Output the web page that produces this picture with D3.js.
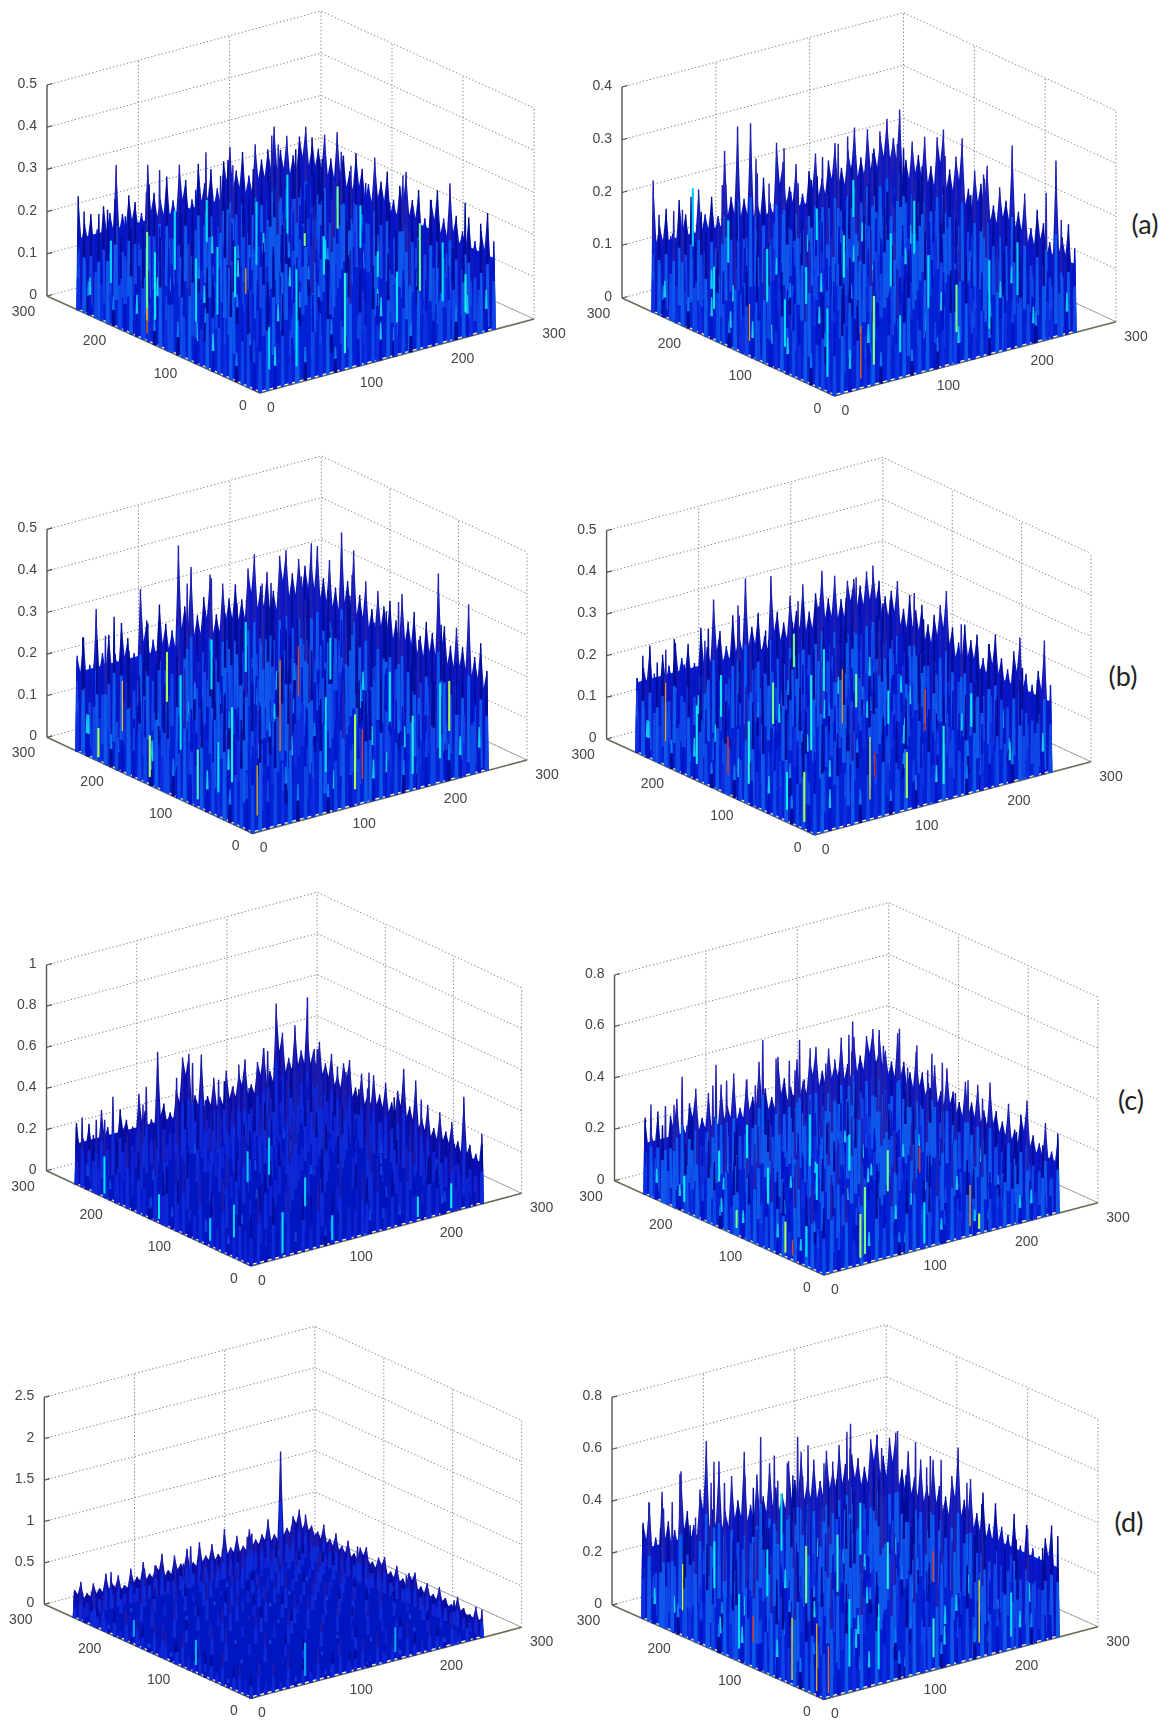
<!DOCTYPE html>
<html>
<head>
<meta charset="utf-8">
<script src="https://cdn.jsdelivr.net/npm/d3@7"></script>
<style>
  html, body { margin: 0; padding: 0; background: #fff; }
  text { font-family: "Liberation Sans", Arial, sans-serif; }
</style>
</head>
<body>
<div id="plot"></div>
<script>
// tick labels shared by the floor axes
const xyTicks = [0, 100, 200, 300];
const gridExtent = 256;

// vertical ticks of each panel
const zTicksA1 = [0, 0.1, 0.2, 0.3, 0.4, 0.5];
const zTicksA2 = [0, 0.1, 0.2, 0.3, 0.4];
const zTicksB1 = [0, 0.1, 0.2, 0.3, 0.4, 0.5];
const zTicksB2 = [0, 0.1, 0.2, 0.3, 0.4, 0.5];
const zTicksC1 = [0, 0.2, 0.4, 0.6, 0.8, 1];
const zTicksC2 = [0, 0.2, 0.4, 0.6, 0.8];
const zTicksD1 = [0, 0.5, 1, 1.5, 2, 2.5];
const zTicksD2 = [0, 0.2, 0.4, 0.6, 0.8];

// heights read along the back-left edge (left to right on screen)
const leftA1 = [.27,.2,.22,.18,.23,.21,.32,.2,.24,.22,.19,.3,.23,.21,.26,.2,.28,.24,.19,.27,.22,.25,.2,.26,.29,.23,.27,.21,.28,.24,.26,.31,.25,.28,.23,.27,.29,.24];
const leftA2 = [.25,.16,.19,.14,.2,.17,.15,.21,.16,.19,.15,.27,.18,.31,.17,.31,.16,.2,.15,.26,.22,.17,.21,.15,.19,.22,.17,.2,.23,.18,.21,.25,.19,.24,.2,.22,.25,.21];
const leftB1 = [.23,.27,.2,.33,.22,.26,.21,.28,.24,.2,.35,.27,.22,.3,.25,.23,.43,.28,.37,.25,.29,.34,.24,.31,.27,.3,.26,.33,.36,.28,.31,.26,.34,.35,.29,.32,.3,.35];
const leftB2 = [.18,.2,.25,.17,.22,.19,.24,.2,.23,.18,.26,.21,.32,.24,.2,.27,.22,.35,.23,.26,.2,.34,.25,.22,.28,.24,.3,.23,.27,.32,.25,.3,.24,.28,.28,.26,.29,.27];
const leftC1 = [.3,.22,.28,.2,.33,.24,.2,.31,.25,.21,.36,.27,.22,.54,.28,.23,.33,.48,.49,.28,.47,.26,.34,.24,.36,.27,.33,.39,.26,.36,.42,.3,.62,.47,.34,.49,.36,.61];
const leftC2 = [.29,.22,.31,.2,.28,.34,.23,.31,.36,.24,.33,.23,.35,.26,.38,.24,.34,.27,.4,.29,.25,.4,.31,.27,.37,.28,.36,.4,.3,.38,.32,.41,.3,.4,.32,.39,.41,.33];
const leftD1 = [.34,.42,.26,.36,.28,.44,.3,.38,.24,.42,.3,.46,.3,.38,.5,.28,.44,.32,.48,.3,.52,.34,.46,.32,.6,.36,.48,.34,.52,.38,.42,.58,.38,1.36,.42,.54,.6,.44];
const leftD2 = [.37,.44,.3,.47,.35,.31,.53,.37,.31,.44,.62,.35,.53,.33,.46,.36,.54,.33,.44,.35,.47,.37,.34,.46,.38,.48,.36,.44,.35,.46,.38,.47,.39,.42,.4,.36,.46,.47];

// heights read along the back-right edge (left to right on screen)
const rightA1 = [.26,.24,.28,.23,.3,.25,.22,.27,.24,.21,.28,.23,.26,.2,.24,.28,.22,.25,.19,.24,.27,.21,.3,.23,.2,.24,.19,.22,.27,.18];
const rightA2 = [.21,.27,.18,.22,.2,.24,.19,.25,.27,.2,.23,.27,.18,.22,.2,.24,.17,.21,.19,.3,.18,.22,.16,.2,.18,.15,.31,.17,.2,.14];
const rightB1 = [.3,.35,.28,.33,.27,.41,.3,.38,.28,.32,.26,.31,.28,.3,.26,.33,.27,.3,.25,.29,.27,.42,.3,.26,.31,.27,.38,.26,.3,.24];
const rightB2 = [.3,.27,.24,.26,.29,.23,.27,.24,.26,.22,.25,.28,.32,.24,.21,.26,.23,.25,.2,.24,.27,.22,.2,.25,.29,.21,.19,.23,.31,.18];
const rightC1 = [.44,.36,.42,.33,.39,.3,.37,.4,.28,.36,.27,.38,.3,.37,.29,.36,.48,.31,.45,.28,.36,.26,.35,.27,.33,.25,.48,.26,.23,.34];
const rightC2 = [.4,.33,.3,.42,.32,.29,.38,.31,.28,.36,.27,.37,.29,.26,.35,.28,.36,.27,.39,.29,.26,.34,.25,.32,.385,.26,.24,.33,.23,.29];
const rightD1 = [.52,.42,.38,.5,.36,.46,.34,.44,.32,.42,.46,.32,.4,.44,.3,.4,.28,.38,.42,.28,.36,.26,.38,.28,.24,.36,.26,.22,.34,.24];
const rightD2 = [.47,.4,.48,.51,.38,.46,.37,.45,.36,.47,.38,.35,.44,.56,.37,.46,.34,.43,.32,.41,.33,.31,.4,.29,.38,.3,.28,.36,.42,.27];

// heights read along the front-left edge, from the left corner to the front corner
const frontLA1 = [.14,.24,.09,.2,.16,.27,.07,.19,.12,.25,.1,.22,.17,.06,.26,.13,.21,.08,.18,.28,.11,.16,.24,.09,.2,.14,.27,.07,.19,.23,.12,.17];
const frontLA2 = [.11,.19,.07,.16,.13,.22,.06,.15,.1,.2,.08,.17,.14,.05,.21,.11,.17,.07,.14,.22,.09,.13,.19,.07,.16,.12,.21,.06,.15,.18,.1,.14];
const frontLB1 = [.17,.28,.1,.23,.19,.31,.08,.21,.14,.29,.12,.25,.2,.07,.3,.15,.24,.09,.2,.32,.13,.18,.27,.1,.23,.16,.3,.08,.22,.26,.14,.19];
const frontLB2 = [.15,.24,.09,.21,.17,.28,.07,.19,.12,.26,.1,.22,.18,.06,.27,.13,.21,.08,.18,.28,.11,.16,.25,.09,.2,.14,.27,.07,.19,.23,.12,.17];
const frontLC1 = [.2,.34,.12,.28,.23,.38,.1,.26,.17,.36,.14,.3,.24,.09,.4,.18,.29,.11,.25,.37,.15,.22,.33,.12,.27,.19,.36,.1,.26,.31,.16,.23];
const frontLC2 = [.21,.36,.12,.3,.24,.4,.1,.27,.18,.38,.14,.32,.25,.09,.42,.19,.31,.11,.26,.39,.16,.23,.35,.12,.29,.2,.38,.1,.28,.33,.17,.24];
const frontLD1 = [.24,.38,.13,.32,.26,.43,.11,.3,.2,.4,.15,.34,.27,.1,.45,.21,.33,.12,.28,.42,.17,.25,.37,.13,.31,.22,.41,.11,.29,.35,.18,.26];
const frontLD2 = [.28,.46,.14,.38,.3,.5,.12,.34,.22,.48,.17,.4,.32,.11,.52,.24,.39,.14,.33,.49,.19,.29,.44,.15,.36,.25,.47,.12,.35,.41,.2,.3];

// heights read along the front-right edge, from the front corner to the right corner
const frontRA1 = [.18,.26,.1,.22,.13,.27,.08,.2,.15,.24,.06,.19,.28,.12,.17,.23,.09,.25,.14,.2,.07,.26,.16,.11,.22,.18,.08,.24,.13,.19,.1,.21];
const frontRA2 = [.14,.2,.08,.17,.1,.22,.06,.16,.12,.19,.05,.15,.22,.09,.13,.18,.07,.2,.11,.16,.06,.21,.13,.09,.17,.14,.06,.19,.1,.15,.08,.16];
const frontRB1 = [.21,.3,.12,.26,.15,.32,.09,.23,.17,.28,.07,.22,.31,.14,.2,.27,.1,.29,.16,.23,.08,.3,.18,.13,.25,.21,.09,.28,.15,.22,.11,.24];
const frontRB2 = [.18,.26,.1,.23,.13,.28,.08,.2,.15,.24,.06,.19,.27,.12,.17,.23,.09,.25,.14,.2,.07,.26,.16,.11,.22,.18,.08,.24,.13,.19,.1,.21];
const frontRC1 = [.25,.36,.14,.31,.18,.39,.11,.28,.2,.34,.09,.26,.4,.16,.24,.33,.12,.36,.19,.28,.1,.37,.22,.15,.3,.25,.11,.34,.18,.27,.13,.29];
const frontRC2 = [.26,.38,.15,.33,.19,.42,.12,.3,.22,.36,.09,.28,.41,.17,.25,.35,.13,.38,.2,.3,.1,.4,.23,.16,.32,.26,.11,.36,.19,.28,.14,.31];
const frontRD1 = [.28,.42,.16,.36,.2,.45,.12,.32,.24,.4,.1,.3,.44,.18,.27,.38,.14,.41,.22,.33,.11,.43,.26,.18,.35,.29,.12,.39,.21,.31,.15,.34];
const frontRD2 = [.32,.48,.18,.42,.24,.52,.14,.38,.27,.46,.11,.35,.51,.21,.31,.44,.16,.48,.25,.37,.12,.5,.29,.19,.4,.33,.14,.45,.24,.36,.17,.39];

// heights read across the body, back row first, 14 rows of 14
const gridA1 = [
.19,.24,.12,.28,.16,.21,.09,.26,.18,.14,.29,.11,.23,.17,
.08,.21,.27,.13,.19,.31,.15,.07,.24,.2,.12,.26,.16,.22,
.25,.11,.18,.23,.06,.17,.28,.2,.1,.3,.14,.19,.24,.09,
.14,.29,.07,.2,.26,.12,.22,.16,.27,.08,.21,.13,.18,.25,
.22,.1,.24,.16,.3,.09,.19,.27,.13,.18,.25,.06,.28,.15,
.06,.18,.27,.11,.2,.25,.14,.08,.29,.17,.1,.23,.12,.21,
.27,.15,.09,.26,.13,.18,.3,.21,.07,.24,.19,.28,.16,.1,
.12,.23,.2,.07,.28,.16,.1,.25,.18,.14,.27,.09,.22,.19,
.2,.08,.29,.17,.12,.24,.21,.06,.3,.11,.16,.26,.13,.24,
.26,.19,.13,.22,.25,.08,.17,.28,.12,.2,.07,.23,.29,.11,
.1,.27,.16,.09,.19,.3,.13,.22,.16,.26,.18,.12,.08,.24,
.23,.07,.25,.2,.14,.11,.27,.17,.09,.21,.29,.15,.19,.13,
.15,.2,.11,.28,.08,.22,.18,.1,.25,.13,.06,.24,.17,.27,
.09,.26,.18,.12,.23,.16,.07,.29,.14,.19,.22,.1,.26,.16];
const gridA2 = [
.14,.2,.09,.17,.24,.11,.16,.07,.21,.13,.18,.1,.23,.15,
.06,.18,.22,.11,.14,.26,.09,.19,.12,.25,.08,.17,.13,.2,
.21,.08,.13,.24,.07,.17,.2,.12,.16,.06,.22,.14,.19,.09,
.12,.25,.1,.15,.19,.09,.13,.27,.07,.18,.11,.24,.08,.21,
.17,.07,.2,.12,.23,.15,.06,.18,.22,.1,.16,.13,.2,.11,
.09,.15,.26,.06,.13,.21,.17,.09,.14,.25,.07,.19,.12,.16,
.23,.11,.12,.19,.08,.16,.25,.07,.2,.13,.17,.09,.24,.1,
.07,.18,.16,.1,.22,.06,.12,.19,.09,.23,.14,.2,.06,.17,
.13,.09,.24,.14,.11,.2,.15,.1,.26,.07,.12,.18,.15,.22,
.2,.16,.07,.18,.25,.09,.22,.13,.06,.17,.21,.08,.11,.14,
.08,.22,.13,.09,.15,.17,.06,.24,.11,.19,.1,.25,.16,.07,
.16,.06,.19,.23,.1,.12,.2,.08,.15,.13,.22,.07,.18,.12,
.11,.17,.08,.13,.2,.07,.14,.21,.1,.06,.16,.19,.09,.24,
.05,.14,.21,.1,.06,.18,.09,.12,.19,.15,.07,.13,.22,.1];
const gridB1 = [
.22,.3,.13,.26,.19,.09,.33,.17,.24,.12,.28,.2,.15,.31,
.1,.19,.28,.16,.35,.23,.07,.27,.13,.3,.18,.09,.25,.21,
.29,.14,.08,.31,.2,.12,.26,.18,.32,.1,.22,.27,.14,.17,
.17,.26,.23,.1,.14,.29,.2,.09,.24,.16,.33,.12,.28,.2,
.08,.21,.34,.18,.27,.13,.11,.3,.19,.25,.07,.23,.17,.32,
.3,.12,.16,.25,.09,.22,.31,.14,.08,.28,.2,.13,.29,.1,
.19,.28,.07,.2,.3,.17,.1,.25,.33,.12,.17,.26,.09,.23,
.11,.15,.27,.13,.22,.08,.29,.19,.14,.24,.31,.1,.21,.27,
.26,.09,.2,.32,.12,.25,.16,.07,.28,.18,.11,.3,.15,.13,
.14,.3,.18,.08,.24,.19,.27,.12,.21,.09,.26,.17,.33,.2,
.23,.11,.25,.16,.1,.31,.08,.22,.29,.15,.19,.07,.24,.12,
.07,.27,.13,.29,.18,.12,.2,.28,.1,.23,.13,.27,.16,.3,
.2,.16,.09,.22,.3,.06,.25,.15,.18,.11,.31,.2,.08,.19,
.12,.24,.19,.1,.15,.27,.11,.21,.07,.26,.14,.1,.23,.16];
const gridB2 = [
.18,.25,.1,.22,.29,.13,.2,.08,.26,.16,.11,.24,.19,.14,
.09,.2,.27,.14,.16,.23,.07,.28,.12,.21,.17,.3,.1,.22,
.24,.12,.17,.3,.08,.19,.25,.13,.22,.09,.27,.15,.2,.11,
.13,.28,.06,.2,.24,.11,.16,.29,.18,.14,.07,.23,.26,.17,
.21,.09,.23,.15,.1,.27,.19,.07,.24,.2,.13,.18,.09,.28,
.07,.16,.3,.12,.22,.17,.1,.25,.14,.08,.29,.21,.15,.12,
.27,.19,.11,.24,.06,.13,.28,.18,.09,.23,.16,.1,.25,.2,
.12,.07,.2,.17,.27,.21,.08,.14,.3,.11,.19,.26,.07,.15,
.22,.26,.14,.09,.18,.25,.12,.2,.17,.27,.06,.13,.23,.18,
.1,.17,.23,.28,.11,.07,.22,.16,.09,.19,.24,.15,.28,.08,
.25,.08,.13,.19,.21,.15,.27,.1,.26,.12,.18,.09,.2,.24,
.15,.22,.09,.12,.26,.2,.06,.23,.13,.17,.11,.27,.14,.1,
.09,.18,.24,.07,.14,.1,.19,.12,.21,.08,.25,.16,.06,.22,
.2,.11,.15,.22,.08,.17,.13,.24,.07,.16,.1,.19,.23,.13];
const gridC1 = [
.28,.38,.17,.34,.22,.44,.19,.31,.26,.14,.4,.24,.33,.2,
.13,.25,.42,.2,.3,.16,.36,.12,.28,.45,.18,.32,.22,.38,
.36,.18,.26,.46,.12,.28,.21,.4,.16,.3,.24,.14,.42,.27,
.2,.41,.14,.24,.35,.19,.48,.25,.33,.11,.38,.28,.18,.34,
.31,.12,.37,.29,.17,.42,.13,.3,.22,.4,.16,.35,.26,.14,
.16,.33,.23,.13,.44,.26,.34,.18,.12,.31,.43,.2,.38,.28,
.42,.21,.16,.39,.24,.11,.29,.46,.2,.26,.13,.34,.15,.24,
.11,.28,.45,.19,.3,.36,.15,.23,.39,.16,.3,.22,.43,.18,
.26,.17,.12,.33,.14,.25,.41,.1,.28,.35,.19,.4,.12,.32,
.38,.24,.3,.1,.22,.4,.18,.33,.14,.23,.44,.11,.27,.2,
.14,.36,.2,.27,.42,.13,.24,.3,.17,.4,.1,.29,.21,.37,
.24,.1,.32,.18,.12,.31,.2,.15,.36,.13,.26,.34,.16,.12,
.18,.27,.13,.23,.3,.09,.26,.35,.11,.21,.33,.14,.28,.23,
.09,.2,.26,.12,.17,.28,.11,.18,.24,.3,.1,.2,.13,.26];
const gridC2 = [
.3,.42,.18,.36,.24,.48,.14,.33,.4,.2,.28,.46,.16,.38,
.16,.28,.46,.12,.34,.22,.4,.27,.13,.36,.44,.18,.31,.24,
.38,.2,.12,.4,.3,.15,.5,.2,.34,.1,.26,.38,.22,.44,
.13,.44,.26,.18,.48,.32,.11,.41,.24,.3,.16,.42,.13,.28,
.34,.1,.37,.28,.14,.4,.24,.16,.46,.13,.36,.2,.34,.18,
.22,.3,.16,.44,.23,.1,.36,.3,.12,.42,.22,.28,.1,.4,
.4,.15,.33,.1,.38,.27,.17,.45,.2,.26,.11,.48,.3,.14,
.12,.36,.24,.2,.46,.14,.32,.1,.38,.16,.34,.18,.42,.25,
.28,.2,.42,.13,.26,.34,.12,.4,.24,.3,.44,.1,.22,.36,
.44,.12,.18,.38,.1,.22,.42,.19,.14,.36,.2,.3,.16,.12,
.17,.34,.28,.22,.4,.13,.26,.33,.1,.24,.4,.14,.35,.27,
.32,.09,.38,.14,.18,.36,.1,.23,.41,.12,.18,.32,.08,.21,
.1,.26,.15,.3,.12,.2,.28,.14,.18,.34,.09,.24,.28,.14,
.22,.13,.24,.08,.27,.1,.16,.26,.09,.2,.28,.12,.16,.22];
const gridD1 = [
.32,.44,.2,.38,.26,.5,.16,.36,.28,.46,.22,.34,.4,.18,
.18,.3,.46,.14,.4,.24,.36,.2,.52,.16,.32,.42,.26,.34,
.4,.12,.28,.44,.2,.34,.12,.46,.24,.38,.14,.3,.48,.22,
.24,.42,.18,.32,.5,.14,.38,.28,.18,.42,.34,.2,.28,.4,
.14,.34,.4,.22,.12,.44,.26,.16,.48,.24,.12,.38,.32,.18,
.36,.2,.12,.46,.3,.18,.4,.34,.1,.3,.44,.16,.24,.42,
.22,.42,.32,.16,.38,.26,.12,.46,.22,.36,.18,.4,.14,.3,
.1,.28,.18,.4,.14,.44,.3,.2,.34,.12,.42,.26,.36,.2,
.38,.16,.44,.24,.32,.1,.36,.14,.42,.28,.16,.2,.44,.12,
.26,.34,.1,.36,.18,.28,.42,.24,.12,.38,.3,.14,.22,.34,
.14,.4,.24,.12,.42,.2,.16,.36,.26,.1,.4,.32,.16,.28,
.3,.1,.36,.26,.16,.34,.1,.24,.38,.16,.2,.12,.34,.22,
.12,.24,.14,.32,.1,.22,.3,.12,.18,.28,.1,.26,.16,.3,
.2,.1,.22,.12,.26,.08,.16,.24,.1,.14,.24,.18,.08,.2];
const gridD2 = [
.36,.52,.2,.44,.3,.58,.18,.4,.5,.24,.34,.54,.22,.46,
.18,.34,.56,.14,.42,.26,.48,.3,.16,.44,.54,.2,.38,.28,
.46,.22,.12,.5,.36,.18,.6,.24,.4,.12,.32,.46,.26,.52,
.14,.54,.32,.22,.58,.38,.12,.5,.28,.36,.18,.5,.14,.34,
.42,.1,.44,.34,.16,.5,.3,.18,.56,.14,.42,.24,.4,.22,
.26,.36,.18,.54,.28,.1,.44,.38,.14,.52,.26,.34,.1,.48,
.5,.16,.4,.1,.46,.32,.2,.56,.24,.3,.12,.58,.36,.16,
.14,.44,.28,.24,.56,.16,.38,.1,.46,.18,.4,.2,.52,.3,
.34,.22,.52,.14,.3,.42,.14,.5,.28,.36,.54,.1,.26,.44,
.54,.14,.2,.46,.1,.26,.52,.22,.16,.44,.24,.36,.18,.12,
.2,.42,.34,.26,.5,.14,.3,.4,.1,.28,.48,.16,.42,.32,
.38,.1,.46,.16,.2,.44,.1,.26,.5,.14,.2,.38,.08,.24,
.1,.3,.16,.36,.12,.22,.34,.16,.2,.4,.1,.28,.34,.16,
.26,.14,.28,.08,.32,.1,.18,.3,.1,.22,.34,.12,.18,.26];

// bright streaks seen on the body: position along the front edges, z from, z to, colour level
const accentA1 = [[-159,.05,.26,.5],[-159,.02,.08,.8],[-148,.06,.22,.38],[40,.04,.27,.36],[93,.04,.23,.42],[129,.2,.26,.36],[49,.32,.35,.52],[-90,.1,.25,.36],[-60,.14,.3,.34],[-35,.2,.32,.38],[-20,.22,.28,.72],[10,.05,.15,.34],[70,.24,.33,.36],[150,.08,.2,.36],[175,.14,.3,.5],[200,.1,.24,.36],[-120,.2,.34,.36],[-210,.1,.2,.35],[225,.06,.15,.4],[110,.28,.38,.36],[-5,.3,.45,.34],[30,.36,.5,.36],[-75,.3,.4,.36],[85,.34,.44,.5]];
const accentA2 = [[-120,.03,.1,.75],[-70,.05,.14,.36],[-10,.03,.16,.36],[42,.04,.17,.52],[28,.02,.12,.8],[70,.05,.12,.36],[60,.18,.28,.36],[10,.22,.3,.4],[100,.12,.22,.36],[130,.06,.15,.5],[-40,.15,.22,.36],[-95,.12,.22,.36],[-170,.06,.14,.36],[-200,.16,.27,.34],[165,.05,.18,.36],[195,.1,.2,.34],[-25,.28,.34,.36],[20,.33,.4,.36],[85,.23,.33,.36],[-150,.16,.24,.36]];
const accentB1 = [[-225,.01,.08,.55],[-150,.02,.12,.55],[-80,.02,.14,.45],[5,.04,.16,.7],[80,.1,.28,.36],[112,.04,.22,.55],[120,.06,.18,.85],[30,.18,.4,.75],[-30,.1,.28,.4],[-105,.12,.3,.36],[175,.04,.18,.4],[205,.06,.24,.38],[215,.12,.24,.55],[-60,.3,.42,.36],[50,.3,.42,.85],[-10,.38,.5,.36],[-190,.1,.22,.7],[150,.18,.3,.38],[-125,.22,.34,.55],[85,.32,.42,.36],[-50,.06,.18,.36]];
const accentB2 = [[-215,.06,.2,.75],[-170,.04,.18,.38],[-125,.05,.14,.85],[-95,.05,.2,.42],[-40,.03,.12,.38],[-15,.02,.14,.55],[60,.05,.2,.6],[65,.1,.16,.9],[100,.03,.14,.55],[140,.04,.18,.4],[30,.25,.38,.75],[-5,.2,.38,.4],[-60,.22,.32,.5],[-135,.18,.28,.38],[10,.34,.44,.38],[45,.28,.36,.5],[170,.16,.24,.38],[120,.18,.28,.85],[80,.22,.3,.38],[-30,.38,.46,.5]];
const accentC1 = [[-215,.02,.2,.36],[-135,.02,.14,.36],[-60,.03,.14,.34],[-25,.1,.26,.34],[35,.02,.22,.36],[90,.02,.14,.34],[185,.02,.12,.36],[222,.02,.14,.38],[60,.22,.36,.34],[-5,.4,.55,.34],[20,.42,.6,.34]];
const accentC2 = [[-200,.04,.14,.38],[-125,.03,.1,.5],[-55,.02,.14,.55],[-45,.02,.08,.85],[-25,.04,.16,.36],[40,.03,.2,.55],[45,.04,.3,.5],[110,.02,.18,.36],[160,.04,.2,.7],[170,.02,.08,.55],[-80,.18,.32,.38],[-10,.28,.42,.36],[70,.26,.42,.5],[-150,.18,.3,.38],[105,.3,.4,.85],[28,.38,.52,.38],[-20,.4,.6,.36],[-110,.32,.45,.38]];
const accentD1 = [[-80,.1,.4,.32],[60,.1,.5,.3],[160,.1,.4,.3],[-170,.1,.3,.3]];
const accentD2 = [[-200,.1,.28,.6],[-120,.05,.26,.36],[-45,.02,.26,.62],[-10,.02,.28,.7],[5,.02,.2,.8],[28,.1,.36,.36],[60,.06,.26,.36],[120,.05,.2,.42],[170,.06,.3,.62],[205,.05,.22,.36],[-80,.3,.48,.36],[-25,.34,.56,.5],[15,.4,.62,.42],[70,.36,.54,.42],[-155,.24,.42,.38],[120,.34,.46,.85],[-60,.5,.72,.36],[40,.52,.72,.36],[-100,.1,.2,.85]];

// where each box sits on the page, and the level its dense mass reaches
const panels = [
  {left: {x: 47, y: 296}, front: {x: 260, y: 393}, right: {x: 534, y: 319}, height: 211, zTicks: zTicksA1, edgeL: leftA1, edgeR: rightA1, frontL: frontLA1, frontR: frontRA1, grid: gridA1, accents: accentA1, body: .17, deep: false},
  {left: {x: 622, y: 298}, front: {x: 834.5, y: 396}, right: {x: 1116, y: 321.7}, height: 211, zTicks: zTicksA2, edgeL: leftA2, edgeR: rightA2, frontL: frontLA2, frontR: frontRA2, grid: gridA2, accents: accentA2, body: .13, deep: false},
  {left: {x: 47, y: 737.3}, front: {x: 252.6, y: 833.3}, right: {x: 527, y: 760}, height: 208, zTicks: zTicksB1, edgeL: leftB1, edgeR: rightB1, frontL: frontLB1, frontR: frontRB1, grid: gridB1, accents: accentB1, body: .19, deep: false},
  {left: {x: 606.6, y: 739}, front: {x: 814.7, y: 835}, right: {x: 1091, y: 761.7}, height: 208.3, zTicks: zTicksB2, edgeL: leftB2, edgeR: rightB2, frontL: frontLB2, frontR: frontRB2, grid: gridB2, accents: accentB2, body: .17, deep: false},
  {left: {x: 46.5, y: 1170.7}, front: {x: 251, y: 1266}, right: {x: 521.6, y: 1193.3}, height: 205.7, zTicks: zTicksC1, edgeL: leftC1, edgeR: rightC1, frontL: frontLC1, frontR: frontRC1, grid: gridC1, accents: accentC1, body: .2, deep: true},
  {left: {x: 614.5, y: 1180.7}, front: {x: 823.8, y: 1275}, right: {x: 1098, y: 1202.7}, height: 205.7, zTicks: zTicksC2, edgeL: leftC2, edgeR: rightC2, frontL: frontLC2, frontR: frontRC2, grid: gridC2, accents: accentC2, body: .2, deep: false},
  {left: {x: 44.3, y: 1604.3}, front: {x: 251, y: 1698.3}, right: {x: 521.6, y: 1627.3}, height: 207, zTicks: zTicksD1, edgeL: leftD1, edgeR: rightD1, frontL: frontLD1, frontR: frontRD1, grid: gridD1, accents: accentD1, body: .2, deep: true},
  {left: {x: 612, y: 1605}, front: {x: 823.8, y: 1699.3}, right: {x: 1098, y: 1626.7}, height: 207.7, zTicks: zTicksD2, edgeL: leftD2, edgeR: rightD2, frontL: frontLD2, frontR: frontRD2, grid: gridD2, accents: accentD2, body: .27, deep: false}
];

const captions = [
  {label: "(a)", x: 1145, y: 234},
  {label: "(b)", x: 1123, y: 686},
  {label: "(c)", x: 1131, y: 1110},
  {label: "(d)", x: 1129, y: 1532}
];

const svg = d3.select("#plot")
  .append("svg")
    .attr("width", 1171)
    .attr("height", 1722);

// the reference is a soft, rescaled screenshot
const defs = svg.append("defs");
defs.append("filter").attr("id", "soft")
  .append("feGaussianBlur").attr("stdDeviation", 0.7);
defs.append("filter").attr("id", "softText")
  .append("feGaussianBlur").attr("stdDeviation", 0.35);

// jet colours for the bright streaks
const jet = d3.scaleLinear()
  .domain([0, 0.12, 0.37, 0.5, 0.62, 0.87, 1])
  .range(["#00008f", "#0000ff", "#00e8ff", "#70ff90", "#ffff00", "#ff3000", "#800000"]);

const lineGen = d3.line();

function drawPanel(p) {
  const g = svg.append("g");
  const axisX = d3.scaleLinear().domain([0, 300]).range([0, 1]);
  const axisY = d3.scaleLinear().domain([0, 300]).range([0, 1]);
  const axisZ = d3.scaleLinear().domain([0, d3.max(p.zTicks)]).range([0, p.height]);

  const project = (x, y, z) => [
    p.front.x + axisX(x) * (p.right.x - p.front.x) + axisY(y) * (p.left.x - p.front.x),
    p.front.y + axisX(x) * (p.right.y - p.front.y) + axisY(y) * (p.left.y - p.front.y) - axisZ(z)
  ];

  const zTop = d3.max(p.zTicks);
  const grid = g.append("g").attr("filter", "url(#softText)")
    .attr("fill", "none").attr("stroke", "#808080").attr("stroke-width", 1)
    .attr("stroke-dasharray", "1.3 2.3");

  // wall grid
  grid.selectAll(".zline").data(p.zTicks).join("path")
    .attr("class", "zline")
    .attr("d", z => lineGen([project(0, 300, z), project(300, 300, z), project(300, 0, z)]));
  grid.selectAll(".xline").data(xyTicks.slice(1)).join("path")
    .attr("class", "xline")
    .attr("d", v => lineGen([project(v, 300, 0), project(v, 300, zTop)]));
  grid.selectAll(".yline").data(xyTicks.slice(0, 3)).join("path")
    .attr("class", "yline")
    .attr("d", v => lineGen([project(300, v, 0), project(300, v, zTop)]));

  // axes
  const axes = g.append("g").attr("filter", "url(#softText)").attr("fill", "none");
  axes.append("path").attr("stroke", "#a8a8a8").attr("stroke-width", 1)
    .attr("d", lineGen([project(300, 300, 0), project(300, 0, 0)]));
  axes.append("path").attr("stroke", "#555").attr("stroke-width", 1.4)
    .attr("d", lineGen([project(0, 300, 0), project(0, 300, zTop)]));
  axes.append("path").attr("stroke", "#6e6a58").attr("stroke-width", 1.6)
    .attr("d", lineGen([project(0, 300, 0), project(0, 0, 0), project(300, 0, 0)]));
  axes.selectAll(".ztick").data(p.zTicks).join("path")
    .attr("class", "ztick").attr("stroke", "#555").attr("stroke-width", 1.2)
    .attr("d", z => lineGen([project(0, 300, z), project(6, 300, z)]));
  axes.selectAll(".xtick").data(xyTicks.slice(0, 3)).join("path")
    .attr("class", "xtick").attr("stroke", "#555").attr("stroke-width", 1.2)
    .attr("d", v => lineGen([project(v, 0, 0), project(v, 7, 0)]));
  axes.selectAll(".ytick").data(xyTicks.slice(0, 3)).join("path")
    .attr("class", "ytick").attr("stroke", "#555").attr("stroke-width", 1.2)
    .attr("d", v => lineGen([project(0, v, 0), project(7, v, 0)]));

  // tick labels
  const labels = g.append("g").attr("filter", "url(#softText)")
    .attr("font-size", 14).attr("fill", "#444");
  labels.selectAll(".zlabel").data(p.zTicks).join("text")
    .attr("class", "zlabel").attr("text-anchor", "end")
    .attr("x", z => project(0, 300, z)[0] - 10)
    .attr("y", z => project(0, 300, z)[1] + 3)
    .text(z => String(z));
  labels.selectAll(".ylabel").data(xyTicks).join("text")
    .attr("class", "ylabel").attr("text-anchor", "middle")
    .attr("x", v => project(0, v, 0)[0] - (v === 0 ? 17 : 23.5))
    .attr("y", v => project(0, v, 0)[1] + (v === 300 ? 20 : 17))
    .text(v => String(v));
  labels.selectAll(".xlabel").data(xyTicks).join("text")
    .attr("class", "xlabel").attr("text-anchor", "middle")
    .attr("x", v => project(v, 0, 0)[0] + (v === 0 ? 11 : 20))
    .attr("y", v => project(v, 0, 0)[1] + 19)
    .text(v => String(v));

  // the surface
  const surface = g.append("g").attr("filter", "url(#soft)");
  const upperTones = p.deep
    ? ["#0a30dc", "#0a44e0", "#0820d2", "#0612bc", "#060c96", "#1c1cac"]
    : ["#0f78ee", "#12c8ee", "#0a44e6", "#0516c8", "#060c96", "#2020b0"];
  const shade = d3.scaleThreshold()
    .domain([.5, .62, .9, 1.25, 1.6].map(k => k * p.body))
    .range(upperTones);
  const lowerShade = d3.scaleThreshold()
    .domain([.5, .75, 1.05, 1.4].map(k => k * p.body))
    .range(p.deep
      ? ["#060c96", "#0612bc", "#0820d2", "#0a24d6", "#0a2ad8"]
      : ["#060c96", "#0516c8", "#0a2ee0", "#0a44e6", "#0a58ea"]);

  const n = gridExtent;
  const lift = axisZ.invert(2);
  surface.append("path").attr("fill", p.deep ? "#0614c0" : "#0620d4")
    .attr("d", lineGen([project(0, n, lift), project(0, 0, lift), project(n, 0, lift), project(n, 0, p.body), project(n, n, p.body), project(0, n, p.body)]) + "Z");

  // back edges as one jagged ribbon: peaks at the readings, a valley between each pair
  const edgeStepL = d3.scaleLinear().domain([0, p.edgeL.length - 1]).range([0, n]);
  const edgeStepR = d3.scaleLinear().domain([0, p.edgeR.length - 1]).range([n, 0]);
  const jagged = (values, at) => {
    const pts = [at(0, 0)];
    values.forEach((z, i) => {
      pts.push(at(i, z));
      if (i < values.length - 1) pts.push(at(i + 0.5, Math.min(z, values[i + 1]) * 0.82));
    });
    pts.push(at(values.length - 1, 0));
    return lineGen(pts) + "Z";
  };
  const ribbonFill = p.deep ? "#0a10ae" : "#0a18c4";
  surface.append("path").attr("class", "ribbon").attr("fill", ribbonFill)
    .attr("d", jagged(p.edgeL, (i, z) => project(edgeStepL(i), n, z)));
  surface.append("path").attr("class", "ribbon").attr("fill", ribbonFill)
    .attr("d", jagged(p.edgeR, (j, z) => project(n, edgeStepR(j), z)));

  const taper = (d, z0, z1, w0, w1) => {
    const a = project(d.x, d.y, z0), b = project(d.x, d.y, z1);
    return lineGen([[a[0] - w0, a[1]], [b[0] - w1, b[1]], [b[0] + w1, b[1]], [a[0] + w0, a[1]]]) + "Z";
  };

  // the edge readings again as streaks, so the ribbon has the same grain as the body
  const edgeStems = p.edgeL.map((z, i) => ({x: edgeStepL(i), y: n, z}))
    .concat(p.edgeR.map((z, j) => ({x: n, y: edgeStepR(j), z})));

  // body readings from back to front; rows and columns crowd towards the back edges,
  // which is the only place a stem can reach the top of the mass
  const size = Math.round(Math.sqrt(p.grid.length));
  const gridStep = d3.scalePow().exponent(0.72).domain([0, size - 1]).range([0, n]);
  const bodyStems = p.grid.map((z, k) => ({
    x: gridStep(k % size),
    y: gridStep(size - 1 - Math.floor(k / size)),
    z
  }));

  // front edges last, they stand in front of everything else
  const frontStepL = d3.scaleLinear().domain([0, p.frontL.length - 1]).range([n, 0]);
  const frontStepR = d3.scaleLinear().domain([0, p.frontR.length - 1]).range([0, n]);
  const frontStems = p.frontL.map((z, j) => ({x: 0, y: frontStepL(j), z}))
    .concat(p.frontR.map((z, i) => ({x: frontStepR(i), y: 0, z})));

  const stems = edgeStems.concat(bodyStems, frontStems);
  const stem = surface.selectAll(".stem").data(stems).join("g").attr("class", "stem");
  stem.append("path")
    .attr("fill", d => lowerShade(d.z))
    .attr("d", d => taper(d, 0, d.z * 0.55, 1.9, 1.3));
  stem.append("path")
    .attr("fill", d => shade(d.z))
    .attr("d", d => taper(d, d.z * 0.55, d.z, 1.3, 0.7));

  surface.selectAll(".accent").data(p.accents).join("path")
    .attr("class", "accent")
    .attr("fill", "none")
    .attr("stroke", d => jet(d[3]))
    .attr("stroke-width", d => d[3] > 0.55 ? 1.2 : 2.1)
    .attr("d", d => {
      const x = d[0] > 0 ? d[0] : 0, y = d[0] < 0 ? -d[0] : 0;
      return lineGen([project(x, y, d[1]), project(x, y, d[2])]);
    });
}

panels.forEach(drawPanel);

svg.selectAll(".caption").data(captions).join("text")
  .attr("class", "caption")
  .attr("x", d => d.x).attr("y", d => d.y)
  .attr("text-anchor", "middle")
  .attr("fill", "#222")
  .style("font-family", "Lato, 'Open Sans', sans-serif")
  .style("font-size", "27px")
  .text(d => d.label);
</script>
</body>
</html>
